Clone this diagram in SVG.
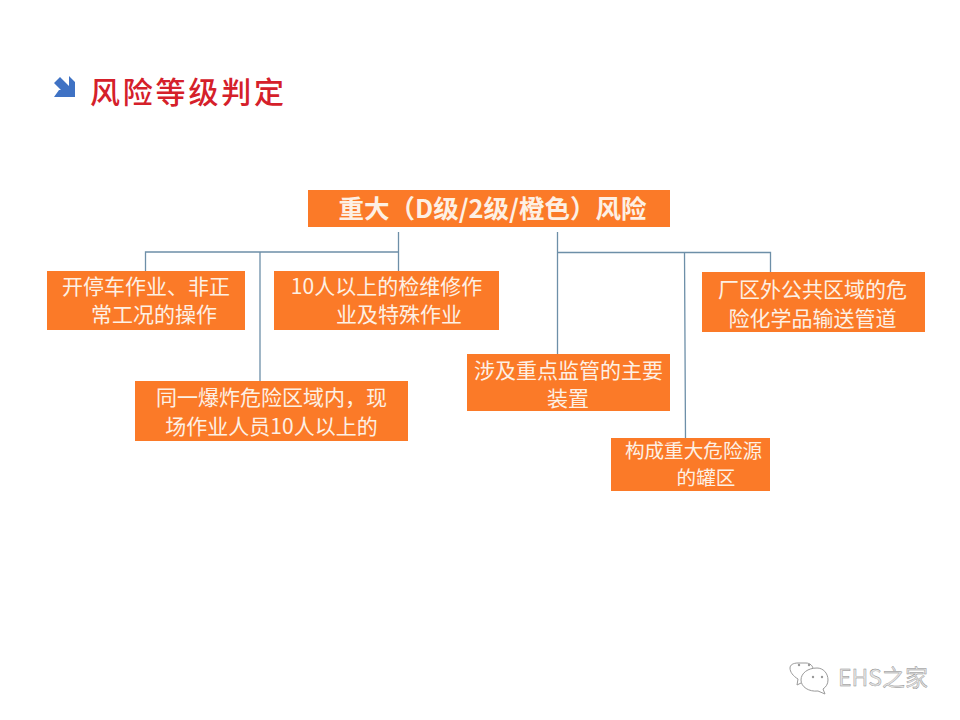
<svg xmlns="http://www.w3.org/2000/svg" width="960" height="720" viewBox="0 0 960 720">
<style>
.box{fill:#fb7a28}
.t{font-family:"Noto Sans CJK SC","Liberation Sans",sans-serif;font-size:21px;fill:#fdf0e4;text-anchor:middle}
.c{fill:none;stroke:#6d8fa8;stroke-width:1.3}
.w{fill:#fff;stroke:#9a9a9a;stroke-width:1}
</style>
<rect width="960" height="720" fill="#fff"/>
<g id="title">
<polygon points="60,77 69,86 69,76 75,82 75,97 54,97 59,90 61,90 54,83" fill="#3f72c4"/>
<text x="90" y="103" style="font-family:'Noto Sans CJK SC',sans-serif;font-size:30px;font-weight:500;letter-spacing:2.800px;fill:#d5202a">风险等级判定</text>
</g>
<g id="connectors">
<path class="c" d="M398.500 232V271M145.500 271V252H398.500M260 252V381"/>
<path class="c" d="M557.500 232V354M557.500 252.500H770.500V272M684.500 252.500L685.500 438"/>
</g>
<g id="n0"><rect class="box" x="308" y="190" width="362" height="37"/><text class="t" x="492.500" y="218" style="font-size:25.500px;font-weight:700">重大（D级/2级/橙色）风险</text></g>
<g id="n1"><rect class="box" x="47" y="271" width="198" height="59"/><text class="t" x="146" y="294">开停车作业、非正</text><text class="t" x="154" y="322">常工况的操作</text></g>
<g id="n2"><rect class="box" x="274" y="271" width="225" height="59"/><text class="t" x="386.500" y="294">10人以上的检维修作</text><text class="t" x="399" y="322">业及特殊作业</text></g>
<g id="n3"><rect class="box" x="135" y="381" width="273" height="60"/><text class="t" x="271.500" y="405">同一爆炸危险区域内，现</text><text class="t" x="271.500" y="434">场作业人员10人以上的</text></g>
<g id="n4"><rect class="box" x="467" y="354" width="203" height="57"/><text class="t" x="568.500" y="378">涉及重点监管的主要</text><text class="t" x="568" y="406">装置</text></g>
<g id="n5"><rect class="box" x="611" y="438" width="159" height="53"/><text class="t" x="693.500" y="458" style="font-size:19.600px">构成重大危险源</text><text class="t" x="706" y="485" style="font-size:19.600px">的罐区</text></g>
<g id="n6"><rect class="box" x="702" y="272" width="223" height="60"/><text class="t" x="812.500" y="297">厂区外公共区域的危</text><text class="t" x="812.500" y="326">险化学品输送管道</text></g>
<g id="watermark">
<path class="w" d="M805 682c-1 0-1 0-2 0l-6 3 1-6c-5-3-8-7-8-11 0-3 3-5 8-5l8 0c4 0 7 3 7 6"/>
<path class="w" d="M817 668c6 0 11 5 11 12 0 4-2 7-5 9l2 5-7-3c-9 1-17-4-17-11 0-7 7-12 16-12z"/>
<circle cx="813" cy="677" r="1.200" fill="#999"/><circle cx="822" cy="677" r="1.200" fill="#999"/>
<circle cx="799" cy="665" r="1.200" fill="#999"/><circle cx="809" cy="665" r="1.200" fill="#999"/>
<text x="838" y="686" style="font-family:'Noto Sans CJK SC',sans-serif;font-size:23px;fill:#e4e4e4;stroke:#8c8c8c;stroke-width:.4">EHS之家</text>
</g>
</svg>
